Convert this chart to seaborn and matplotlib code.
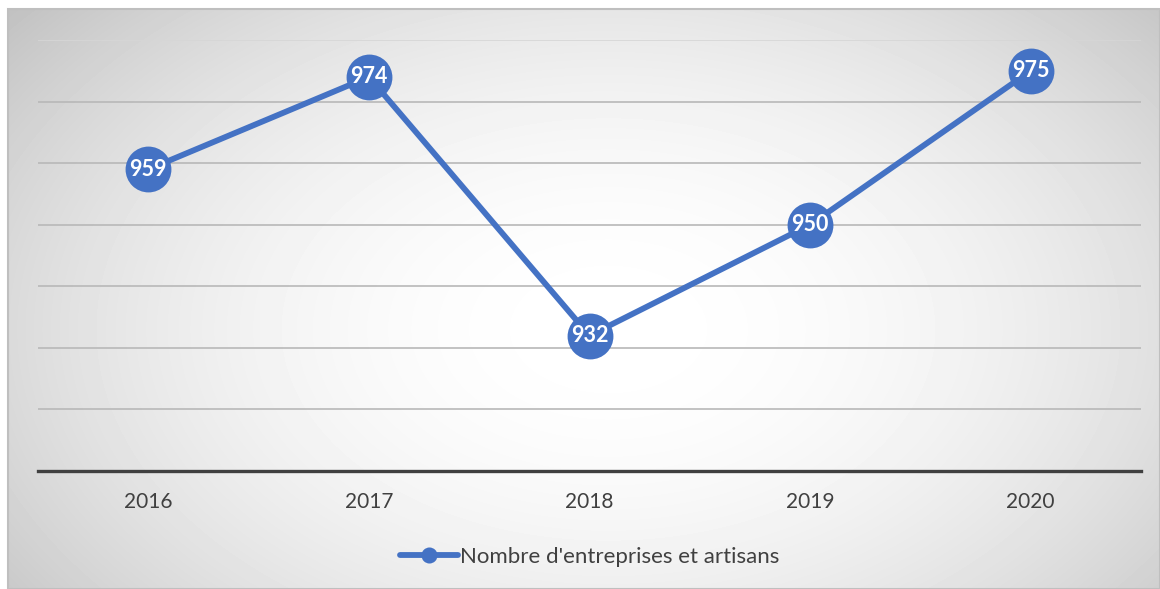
import numpy as np
import pandas as pd
import matplotlib
matplotlib.use("Agg")
import matplotlib.pyplot as plt
import seaborn as sns

years = ["2016", "2017", "2018", "2019", "2020"]
counts = [959, 974, 932, 950, 975]
series_name = "Nombre d'entreprises et artisans"
y_ticks = [910, 920, 930, 940, 950, 960, 970, 980]

BLUE = "#4472C4"

sns.set_theme(style="white")
plt.rcParams["font.family"] = ["Lato", "DejaVu Sans"]

W, H = 1160, 589
fig = plt.figure(figsize=(W / 100, H / 100), dpi=100)
fig.patch.set_facecolor("white")

# radial gradient background of the chart frame
bg = fig.add_axes([8 / W, 0, (W - 8) / W, (H - 9) / H])
bw, bh = W - 8, H - 9
xx, yy = np.meshgrid(np.arange(bw), np.arange(bh))
cx, cy = 600, 320
r2 = ((xx - cx) / 650.0) ** 2 + ((yy - cy) / 420.0) ** 2
shade = np.clip(1.0 - 0.17 * r2, 0.72, 1.0)
bg.imshow(shade, cmap="gray", vmin=0, vmax=1, aspect="auto",
          interpolation="bilinear")
bg.set_axis_off()
fig.add_artist(plt.Rectangle((8 / W, 0), (W - 8) / W, (H - 9) / H,
                             transform=fig.transFigure, fill=False,
                             edgecolor="#bfbfbf", linewidth=1.5))

ax = fig.add_axes([38 / W, (H - 471) / H, (1141 - 38) / W, 431 / H])
ax.set_facecolor("none")

df = pd.DataFrame({"year": years, "value": counts})
sns.lineplot(data=df, x="year", y="value", ax=ax, color=BLUE,
             linewidth=4.2, marker="o", markersize=33,
             markeredgewidth=0, label=series_name, zorder=3)

for i, v in enumerate(counts):
    ax.text(i, v, str(v), ha="center", va="center", color="white",
            fontsize=15.5, fontweight="bold", zorder=4)

ax.set_xlim(-0.5, len(years) - 0.5)
ax.set_ylim(y_ticks[0], y_ticks[-1])
ax.set_yticks(y_ticks)
ax.set_yticklabels([])
ax.tick_params(axis="y", length=0)
ax.tick_params(axis="x", length=0, labelsize=15, labelcolor="#404040",
               pad=15)
ax.grid(axis="y", color="#b8b8b8", linewidth=1.2)
ax.grid(axis="x", visible=False)
ax.get_ygridlines()[-1].set_color("#d6d6d6")
ax.set_xlabel("")
ax.set_ylabel("")
for side in ["top", "left", "right"]:
    ax.spines[side].set_visible(False)
ax.spines["bottom"].set_color("#404040")
ax.spines["bottom"].set_linewidth(2.4)

leg = ax.legend(loc="center", bbox_to_anchor=(0.5, -0.2), frameon=False,
                fontsize=16, handlelength=2.6, handletextpad=0.1,
                markerscale=0.35)
for t in leg.get_texts():
    t.set_color("#404040")

fig.savefig("out.png", dpi=100)
plt.close(fig)
